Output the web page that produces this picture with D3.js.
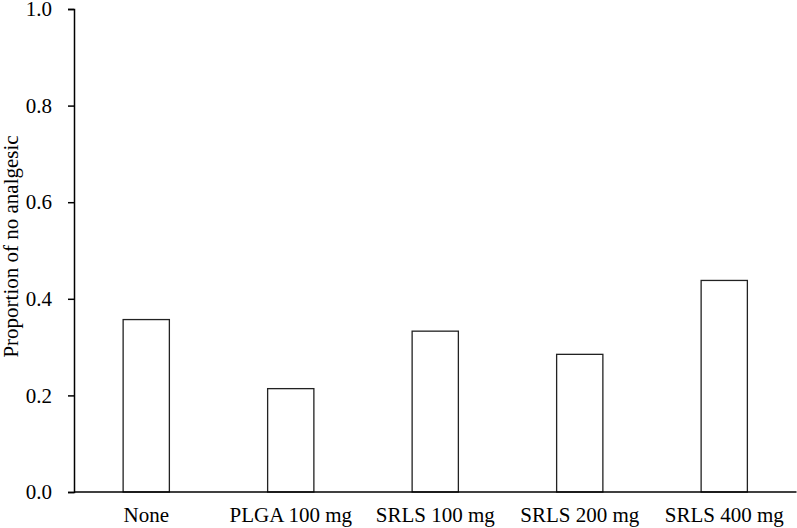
<!DOCTYPE html>
<html>
<head>
<meta charset="utf-8">
<script src="https://cdn.jsdelivr.net/npm/d3@7"></script>
<style>
  html, body { margin: 0; padding: 0; background: #fff; }
  svg { display: block; }
  text { font-family: "Liberation Serif", "Times New Roman", serif; fill: #000; }
</style>
</head>
<body>
<svg id="chart" width="797" height="528"></svg>
<script>
const categories = ["None", "PLGA 100 mg", "SRLS 100 mg", "SRLS 200 mg", "SRLS 400 mg"];
const values = [0.357, 0.214, 0.333, 0.285, 0.438];
const yTicks = [0.0, 0.2, 0.4, 0.6, 0.8, 1.0];
const yLabel = "Proportion of no analgesic";

(function () {
const svg = d3.select("#chart");
const mLeft = 74, mRight = 796.5, mTop = 9, mBottom = 492;

const x = d3.scaleBand().domain(categories).range([mLeft, mRight])
  .paddingInner(0.68).paddingOuter(0.34);
const y = d3.scaleLinear().domain([0, 1]).range([mBottom, mTop]);

// bars
svg.append("g").selectAll("rect").data(categories).join("rect")
  .attr("x", d => x(d))
  .attr("y", (d, i) => y(values[i]))
  .attr("width", x.bandwidth())
  .attr("height", (d, i) => y(0) - y(values[i]))
  .attr("fill", "#fff")
  .attr("stroke", "#222")
  .attr("stroke-width", 1.3);

// y axis
const yAxis = svg.append("g").attr("transform", `translate(${mLeft},0)`)
  .call(d3.axisLeft(y).tickValues(yTicks).tickFormat(d3.format(".1f")).tickSize(6).tickPadding(16));
yAxis.select(".domain").attr("stroke", "#000").attr("stroke-width", 1.5);
yAxis.selectAll(".tick line").attr("stroke", "#000").attr("stroke-width", 1.5);
yAxis.selectAll(".tick text").attr("font-size", 21)
  .attr("font-family", "Liberation Serif, serif").attr("fill", "#000");

// x axis
const xAxis = svg.append("g").attr("transform", `translate(0,${mBottom})`)
  .call(d3.axisBottom(x).tickSize(0).tickPadding(15));
xAxis.select(".domain").attr("stroke", "#000").attr("stroke-width", 1.5)
  .attr("d", `M${mLeft},0H${mRight}`);
xAxis.selectAll(".tick text").attr("font-size", 21)
  .attr("font-family", "Liberation Serif, serif").attr("fill", "#000");

// y label
svg.append("text")
  .attr("transform", `translate(18,${(mTop + mBottom) / 2 - 4}) rotate(-90)`)
  .attr("text-anchor", "middle")
  .attr("font-size", 21)
  .text(yLabel);
})();
</script>
</body>
</html>
